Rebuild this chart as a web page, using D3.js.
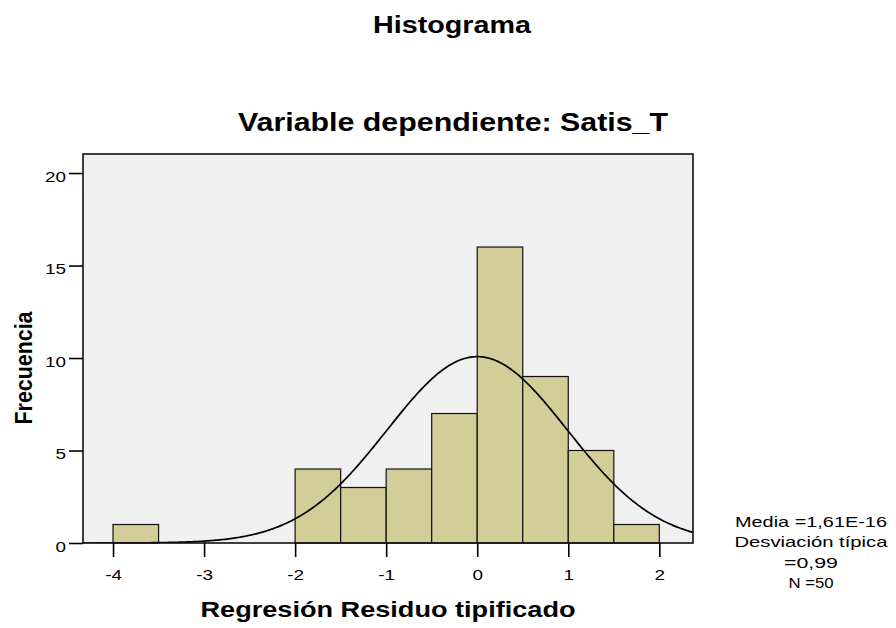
<!DOCTYPE html>
<html>
<head>
<meta charset="utf-8">
<script src="https://cdn.jsdelivr.net/npm/d3@7"></script>
<style>
  body { margin: 0; background: #fff; }
  text { font-family: "Liberation Sans", Arial, sans-serif; fill: #000; }
</style>
</head>
<body>
<svg id="chart" width="896" height="628"></svg>
<script>
// bins of the residuals (lower edge) and their counts
var binStarts = [-4, -2, -1.5, -1, -0.5, 0, 0.5, 1, 1.5];
var binWidth = 0.5;
var counts = [1, 4, 3, 4, 7, 16, 9, 5, 1];
var xTicks = [-4, -3, -2, -1, 0, 1, 2];
var yTicks = [0, 5, 10, 15, 20];
var mean = 1.61e-16, sd = 0.99, n = 50;
var statsLines = ["Media =1,61E-16", "Desviación típica", "=0,99", "N =50"];

var svg = d3.select("#chart");
var plotLeft = 83, plotRight = 693, plotTop = 154, plotBottom = 543;

var x = d3.scaleLinear().domain([-4.33, 2.37]).range([plotLeft, plotRight]);
var y = d3.scaleLinear().domain([0, 21.03]).range([plotBottom, plotTop]);

//the reference text is wider than the font, so stretch it to a given width
function fit(sel, width) {
    sel.attr("textLength", width).attr("lengthAdjust", "spacingAndGlyphs");
}
function widen(sel, k) {
    sel.each(function() {
        var w = this.getComputedTextLength();
        d3.select(this).attr("textLength", w * k).attr("lengthAdjust", "spacingAndGlyphs");
    });
}

//plot background
svg.append("rect")
    .attr("x", plotLeft).attr("y", plotTop)
    .attr("width", plotRight - plotLeft).attr("height", plotBottom - plotTop)
    .attr("fill", "#f0f0f0");

//bars
svg.selectAll(".bar")
    .data(binStarts)
    .enter()
    .append("rect")
    .attr("x", (d) => x(d))
    .attr("y", (d, i) => y(counts[i]))
    .attr("width", (d) => x(d + binWidth) - x(d))
    .attr("height", (d, i) => y(0) - y(counts[i]))
    .attr("fill", "#d3ce98")
    .attr("stroke", "#111")
    .attr("stroke-width", 1.2);

//normal curve, clipped to the plot
svg.append("clipPath").attr("id", "clip")
    .append("rect").attr("x", plotLeft).attr("y", plotTop)
    .attr("width", plotRight - plotLeft).attr("height", plotBottom - plotTop);

var curvePts = d3.range(-4.33, 2.38, 0.02).map(function(v) {
    var z = (v - mean) / sd;
    return [v, n * binWidth * Math.exp(-0.5 * z * z) / (sd * Math.sqrt(2 * Math.PI))];
});
svg.append("path")
    .datum(curvePts)
    .attr("clip-path", "url(#clip)")
    .attr("fill", "none")
    .attr("stroke", "#000")
    .attr("stroke-width", 1.7)
    .attr("d", d3.line().x((d) => x(d[0])).y((d) => y(d[1])));

//frame
svg.append("rect")
    .attr("x", plotLeft).attr("y", plotTop)
    .attr("width", plotRight - plotLeft).attr("height", plotBottom - plotTop)
    .attr("fill", "none")
    .attr("stroke", "#111")
    .attr("stroke-width", 1.6);

//axes
var xAxis = svg.append("g")
    .attr("transform", "translate(0," + plotBottom + ")")
    .call(d3.axisBottom(x).tickValues(xTicks).tickSize(14).tickPadding(13).tickFormat((d) => String(d)));
var yAxis = svg.append("g")
    .attr("transform", "translate(" + plotLeft + ",0)")
    .call(d3.axisLeft(y).tickValues(yTicks).tickSize(14).tickPadding(3).tickFormat((d) => String(d)));
[xAxis, yAxis].forEach(function(a) {
    a.select(".domain").remove();
    a.selectAll("line").attr("stroke", "#000").attr("stroke-width", 1.6);
    a.selectAll("text").attr("fill", "#000").style("font-size", "14px")
        .style("font-family", "'Liberation Sans', Arial, sans-serif");
    widen(a.selectAll("text"), 1.35);
});
yAxis.selectAll("text").attr("dy", "0.6em");

//titles
svg.append("text").text("Histograma")
    .attr("x", 452).attr("y", 33).attr("text-anchor", "middle")
    .style("font-size", "23px").style("font-weight", "bold")
    .call(fit, 158);
svg.append("text").text("Variable dependiente: Satis_T")
    .attr("x", 453).attr("y", 131).attr("text-anchor", "middle")
    .style("font-size", "26px").style("font-weight", "bold")
    .call(fit, 430);
svg.append("text").text("Regresión Residuo tipificado")
    .attr("x", 388).attr("y", 617).attr("text-anchor", "middle")
    .style("font-size", "22px").style("font-weight", "bold")
    .call(fit, 375);
svg.append("text").text("Frecuencia")
    .attr("transform", "translate(32,368) rotate(-90)")
    .attr("text-anchor", "middle")
    .style("font-size", "24px").style("font-weight", "bold")
    .call(fit, 113);

//stats box
var statWidths = [152, 153, 54, 45];
svg.selectAll(".stat")
    .data(statsLines)
    .enter()
    .append("text")
    .text((d) => d)
    .attr("x", 811)
    .attr("y", (d, i) => 527 + i * 20.3)
    .attr("text-anchor", "middle")
    .style("font-size", "15px")
    .attr("textLength", (d, i) => statWidths[i])
    .attr("lengthAdjust", "spacingAndGlyphs");
</script>
</body>
</html>
